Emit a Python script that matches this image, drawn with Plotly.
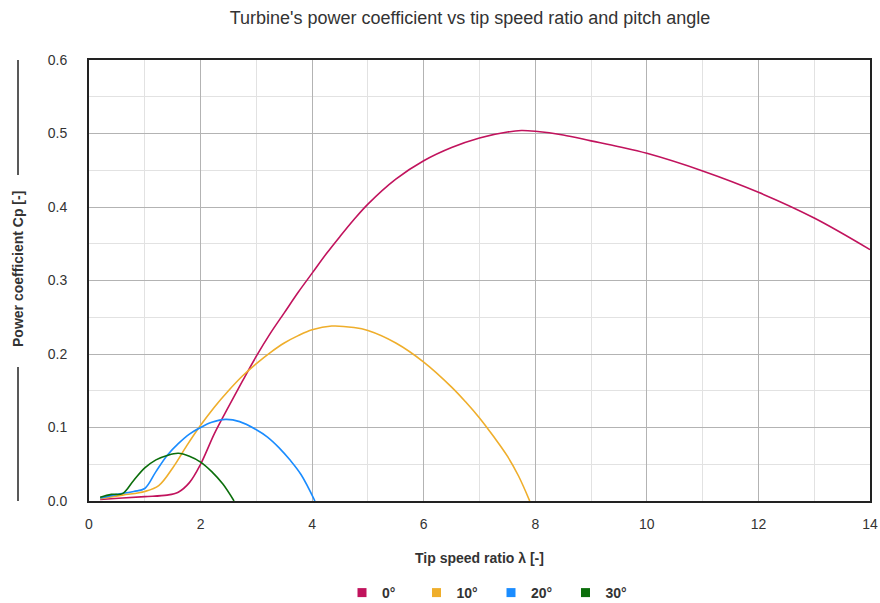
import plotly.graph_objects as go

# Tip speed ratio (lambda) and power coefficient (Cp) for each pitch angle
lam_0 = [0.2, 0.6, 1.0, 1.4, 1.6, 1.8, 2.0, 2.25, 2.5, 2.75, 3.0, 3.25, 3.5, 3.75, 4.0,
         4.25, 4.5, 4.75, 5.0, 5.5, 6.0, 6.5, 7.0, 7.5, 7.75, 8.0, 8.5, 9.0, 9.5, 10.0,
         11.0, 12.0, 13.0, 14.0]
cp_0 = [0.002, 0.004, 0.006, 0.008, 0.012, 0.025, 0.050, 0.092, 0.128, 0.163, 0.197,
        0.228, 0.256, 0.284, 0.310, 0.336, 0.360, 0.383, 0.404, 0.438, 0.463, 0.481,
        0.494, 0.502, 0.504, 0.503, 0.498, 0.490, 0.482, 0.473, 0.449, 0.420, 0.385,
        0.342]

lam_10 = [0.2, 0.6, 1.0, 1.25, 1.5, 1.75, 2.0, 2.25, 2.5, 2.75, 3.0, 3.25, 3.5, 3.75,
          4.0, 4.35, 4.75, 5.0, 5.5, 6.0, 6.5, 6.75, 7.0, 7.25, 7.5, 7.7, 7.9]
cp_10 = [0.003, 0.008, 0.013, 0.021, 0.045, 0.075, 0.103, 0.128, 0.150, 0.170, 0.187,
         0.202, 0.215, 0.225, 0.233, 0.238, 0.236, 0.232, 0.215, 0.189, 0.155, 0.135,
         0.113, 0.088, 0.061, 0.034, 0.0]

lam_20 = [0.2, 0.5, 0.8, 1.0, 1.2, 1.4, 1.6, 1.8, 2.0, 2.2, 2.45, 2.7, 3.0, 3.2, 3.4,
          3.6, 3.8, 4.05]
cp_20 = [0.004, 0.009, 0.013, 0.017, 0.040, 0.062, 0.078, 0.091, 0.100, 0.107, 0.111,
         0.108, 0.097, 0.087, 0.073, 0.056, 0.036, 0.0]

lam_30 = [0.2, 0.4, 0.6, 0.8, 1.0, 1.2, 1.4, 1.6, 1.8, 2.0, 2.2, 2.4, 2.6]
cp_30 = [0.005, 0.009, 0.010, 0.028, 0.045, 0.056, 0.062, 0.065, 0.061, 0.053, 0.040,
         0.023, 0.0]

series = [
    ("0°", lam_0, cp_0, "#c1135d"),
    ("10°", lam_10, cp_10, "#efae2b"),
    ("20°", lam_20, cp_20, "#1a8cff"),
    ("30°", lam_30, cp_30, "#0b6e0b"),
]

x_ticks = [0, 2, 4, 6, 8, 10, 12, 14]
y_ticks = [0.0, 0.1, 0.2, 0.3, 0.4, 0.5, 0.6]

FONT = "Liberation Sans, Arial, sans-serif"

fig = go.Figure()

for name, lam, cp, color in series:
    fig.add_trace(go.Scatter(
        x=lam, y=cp, mode="lines", name=name, showlegend=False,
        line=dict(color=color, width=1.6, shape="spline", smoothing=1.0),
        hoverinfo="x+y",
    ))

# square legend entries
for name, lam, cp, color in series:
    fig.add_trace(go.Scatter(
        x=[None], y=[None], mode="markers", name=name,
        marker=dict(symbol="square", size=9, color=color),
    ))

fig.update_layout(
    width=880, height=603,
    margin=dict(l=89, r=10, t=60, b=102),
    paper_bgcolor="white", plot_bgcolor="white",
    font=dict(family=FONT, size=13, color="#333333"),
    title=dict(
        text="Turbine's power coefficient vs tip speed ratio and pitch angle",
        x=470 / 880, xref="container", xanchor="center",
        y=1 - 18 / 603, yref="container", yanchor="middle",
        font=dict(family=FONT, size=18, color="#333333"),
    ),
    showlegend=True,
    legend=dict(
        orientation="h", xref="container", yref="container",
        x=342 / 880, xanchor="left", y=1 - 593 / 603, yanchor="middle",
        font=dict(family=FONT, size=14, color="#333333", weight="bold"),
        itemwidth=30, entrywidth=29.5, bgcolor="rgba(0,0,0,0)",
    ),
    xaxis=dict(
        range=[0, 14], tickvals=x_ticks, ticktext=[str(v) for v in x_ticks],
        showgrid=True, gridcolor="#b3b3b3", gridwidth=1,
        minor=dict(dtick=1, showgrid=True, gridcolor="#e2e2e2", gridwidth=1),
        showline=True, mirror=True, linecolor="#222222", linewidth=2,
        zeroline=False, ticks="", ticklabelstandoff=9, automargin=False,
        tickfont=dict(family=FONT, size=14, color="#333333"),
        title=dict(text="<b>Tip speed ratio λ [-]</b>", standoff=22,
                   font=dict(family=FONT, size=14, color="#333333")),
    ),
    yaxis=dict(
        range=[0, 0.6], tickvals=y_ticks, ticktext=[f"{v:.1f}" for v in y_ticks],
        showgrid=True, gridcolor="#b3b3b3", gridwidth=1,
        minor=dict(dtick=0.05, showgrid=True, gridcolor="#e2e2e2", gridwidth=1),
        showline=True, mirror=True, linecolor="#222222", linewidth=2,
        zeroline=False, ticks="", ticklabelstandoff=17, automargin=False,
        tickfont=dict(family=FONT, size=14, color="#333333"),
    ),
)

# vertical y-axis title flanked by bracket lines
title_x = (18 - 89) / 781
fig.add_annotation(
    text="<b>Power coefficient Cp [-]</b>", textangle=-90,
    xref="paper", yref="paper", x=title_x, y=(501 - 269) / 441,
    xanchor="center", yanchor="middle", showarrow=False,
    font=dict(family=FONT, size=14, color="#333333"),
)
fig.add_shape(type="line", xref="paper", yref="paper",
              x0=title_x, x1=title_x, y0=1.0, y1=(501 - 175) / 441,
              line=dict(color="#222222", width=1.5))
fig.add_shape(type="line", xref="paper", yref="paper",
              x0=title_x, x1=title_x, y0=(501 - 367) / 441, y1=0.0,
              line=dict(color="#222222", width=1.5))

fig.write_html("out.html")
